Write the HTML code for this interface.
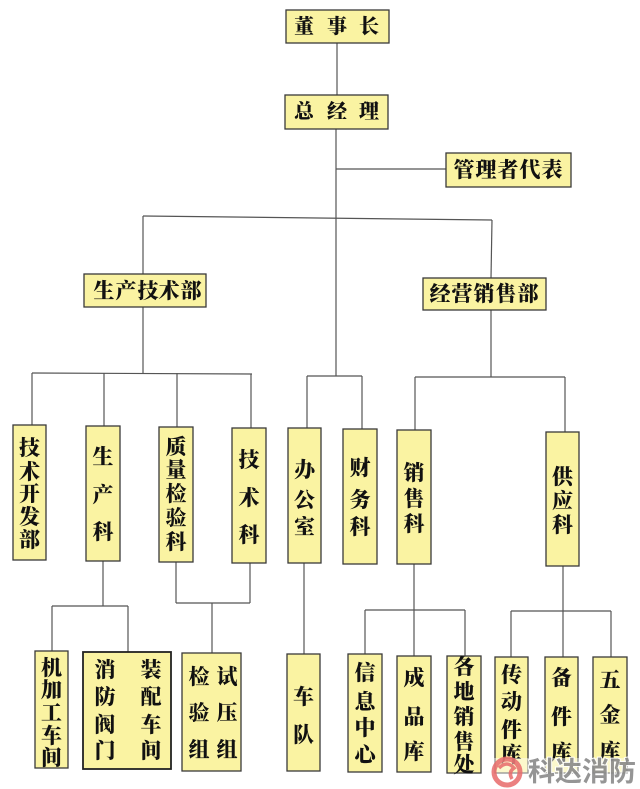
<!DOCTYPE html>
<html><head><meta charset="utf-8"><style>
html,body{margin:0;padding:0;background:#fff;}
svg{display:block;}
.b{fill:#faf3a2;stroke:#3a3a3a;stroke-width:1.3;}
.l{stroke:#555;stroke-width:1.2;fill:none;}
text.t{font-family:"Liberation Serif","Noto Serif CJK SC",serif;font-weight:900;font-size:21px;fill:#111;text-anchor:middle;dominant-baseline:central;}
</style></head><body>
<svg width="640" height="789" viewBox="0 0 640 789" xmlns="http://www.w3.org/2000/svg">
<g class="l">
<line x1="337" y1="43" x2="337" y2="95"/>
<line x1="336" y1="129" x2="336" y2="376"/>
<line x1="336" y1="169" x2="446" y2="169"/>
<line x1="143" y1="216" x2="492" y2="220"/>
<line x1="143" y1="216" x2="143" y2="274"/>
<line x1="492" y1="220" x2="491" y2="278"/>
<line x1="143" y1="307" x2="143" y2="373"/>
<line x1="32" y1="373" x2="252" y2="374"/>
<line x1="32" y1="373" x2="32" y2="425"/>
<line x1="104" y1="373" x2="104" y2="426"/>
<line x1="177" y1="373" x2="177" y2="427"/>
<line x1="251" y1="374" x2="251" y2="428"/>
<line x1="307" y1="376" x2="362" y2="376"/>
<line x1="307" y1="376" x2="307" y2="428"/>
<line x1="362" y1="376" x2="362" y2="429"/>
<line x1="491" y1="310" x2="491" y2="377"/>
<line x1="415" y1="377" x2="565" y2="377"/>
<line x1="415" y1="377" x2="415" y2="430"/>
<line x1="565" y1="377" x2="565" y2="432"/>
<line x1="103" y1="561" x2="103" y2="606"/>
<line x1="52" y1="606" x2="128" y2="606"/>
<line x1="52" y1="606" x2="52" y2="651"/>
<line x1="128" y1="606" x2="128" y2="652"/>
<line x1="176" y1="562" x2="176" y2="603"/>
<line x1="250" y1="563" x2="250" y2="603"/>
<line x1="176" y1="603" x2="250" y2="603"/>
<line x1="212" y1="603" x2="212" y2="653"/>
<line x1="304" y1="563" x2="304" y2="654"/>
<line x1="414" y1="564" x2="414" y2="656"/>
<line x1="365" y1="610" x2="465" y2="610"/>
<line x1="365" y1="610" x2="365" y2="654"/>
<line x1="465" y1="610" x2="465" y2="656"/>
<line x1="563" y1="566" x2="563" y2="657"/>
<line x1="511" y1="611" x2="611" y2="611"/>
<line x1="511" y1="611" x2="511" y2="657"/>
<line x1="611" y1="611" x2="611" y2="657"/>
</g>
<rect class="b" x="286" y="10" width="103" height="33"/>
<text class="t" x="304" y="27" style="font-size:20px">董</text><text class="t" x="337" y="27" style="font-size:20px">事</text><text class="t" x="369" y="27" style="font-size:20px">长</text>
<rect class="b" x="285" y="95" width="103" height="34"/>
<text class="t" x="304" y="112" style="font-size:20px">总</text><text class="t" x="337" y="112" style="font-size:20px">经</text><text class="t" x="369" y="112" style="font-size:20px">理</text>
<rect class="b" x="446" y="153" width="125" height="34"/>
<text class="t" x="464" y="170">管</text><text class="t" x="486" y="170">理</text><text class="t" x="508" y="170">者</text><text class="t" x="530" y="170">代</text><text class="t" x="552" y="170">表</text>
<rect class="b" x="84" y="274" width="122" height="33"/>
<text class="t" x="104" y="291">生</text><text class="t" x="126" y="291">产</text><text class="t" x="148" y="291">技</text><text class="t" x="169" y="291">术</text><text class="t" x="191" y="291">部</text>
<rect class="b" x="423" y="278" width="123" height="32"/>
<text class="t" x="440" y="294">经</text><text class="t" x="462" y="294">营</text><text class="t" x="484" y="294">销</text><text class="t" x="506" y="294">售</text><text class="t" x="528" y="294">部</text>
<rect class="b" x="13" y="425" width="33" height="135"/>
<text class="t" x="29.5" y="448">技</text><text class="t" x="29.5" y="472">术</text><text class="t" x="29.5" y="494">开</text><text class="t" x="29.5" y="517">发</text><text class="t" x="29.5" y="540">部</text>
<rect class="b" x="86" y="426" width="34" height="135"/>
<text class="t" x="103" y="457">生</text><text class="t" x="103" y="495">产</text><text class="t" x="103" y="532">科</text>
<rect class="b" x="159" y="427" width="34" height="135"/>
<text class="t" x="176" y="447">质</text><text class="t" x="176" y="470">量</text><text class="t" x="176" y="494">检</text><text class="t" x="176" y="518">验</text><text class="t" x="176" y="542">科</text>
<rect class="b" x="232" y="428" width="34" height="135"/>
<text class="t" x="249" y="460">技</text><text class="t" x="249" y="498">术</text><text class="t" x="249" y="535">科</text>
<rect class="b" x="288" y="428" width="33" height="135"/>
<text class="t" x="304.5" y="470">办</text><text class="t" x="304.5" y="500">公</text><text class="t" x="304.5" y="527">室</text>
<rect class="b" x="343" y="429" width="34" height="135"/>
<text class="t" x="360" y="468">财</text><text class="t" x="360" y="500">务</text><text class="t" x="360" y="527">科</text>
<rect class="b" x="397" y="430" width="34" height="134"/>
<text class="t" x="414" y="473">销</text><text class="t" x="414" y="499">售</text><text class="t" x="414" y="524">科</text>
<rect class="b" x="546" y="432" width="33" height="134"/>
<text class="t" x="562.5" y="477">供</text><text class="t" x="562.5" y="501">应</text><text class="t" x="562.5" y="525">科</text>
<rect class="b" x="35" y="651" width="33" height="117"/>
<text class="t" x="51.5" y="668">机</text><text class="t" x="51.5" y="690">加</text><text class="t" x="51.5" y="713">工</text><text class="t" x="51.5" y="736">车</text><text class="t" x="51.5" y="758">间</text>
<rect class="b" x="83" y="652" width="88" height="117" style="stroke:#222;stroke-width:1.8"/>
<text class="t" x="105" y="670">消</text><text class="t" x="105" y="697">防</text><text class="t" x="105" y="725">阀</text><text class="t" x="105" y="751">门</text>
<text class="t" x="151" y="670">装</text><text class="t" x="151" y="697">配</text><text class="t" x="151" y="725">车</text><text class="t" x="151" y="751">间</text>
<rect class="b" x="182" y="653" width="59" height="118"/>
<text class="t" x="199" y="677">检</text><text class="t" x="199" y="713">验</text><text class="t" x="199" y="750">组</text>
<text class="t" x="227" y="677">试</text><text class="t" x="227" y="713">压</text><text class="t" x="227" y="750">组</text>
<rect class="b" x="287" y="654" width="33" height="117"/>
<text class="t" x="303.5" y="697">车</text><text class="t" x="303.5" y="735">队</text>
<rect class="b" x="348" y="654" width="34" height="118"/>
<text class="t" x="365" y="673">信</text><text class="t" x="365" y="702">息</text><text class="t" x="365" y="728">中</text><text class="t" x="365" y="755">心</text>
<rect class="b" x="397" y="656" width="34" height="116"/>
<text class="t" x="414" y="678">成</text><text class="t" x="414" y="717">品</text><text class="t" x="414" y="752">库</text>
<rect class="b" x="447" y="656" width="34" height="117"/>
<text class="t" x="464" y="667">各</text><text class="t" x="464" y="692">地</text><text class="t" x="464" y="717">销</text><text class="t" x="464" y="742">售</text><text class="t" x="464" y="765">处</text>
<rect class="b" x="495" y="657" width="33" height="116"/>
<text class="t" x="511.5" y="675">传</text><text class="t" x="511.5" y="702">动</text><text class="t" x="511.5" y="730">件</text><text class="t" x="511.5" y="755">库</text>
<rect class="b" x="545" y="657" width="33" height="116"/>
<text class="t" x="561.5" y="678">备</text><text class="t" x="561.5" y="717">件</text><text class="t" x="561.5" y="753">库</text>
<rect class="b" x="593" y="657" width="34" height="116"/>
<text class="t" x="610" y="680">五</text><text class="t" x="610" y="715">金</text><text class="t" x="610" y="752">库</text>
<rect x="490" y="758" width="150" height="31" fill="#fff" opacity="0.45"/>
<circle cx="507" cy="772" r="13" fill="none" stroke="#e86a6a" stroke-width="5" opacity="0.85"/>
<path d="M499 768 Q507 760 514 768 Q508 772 512 779" fill="none" stroke="#e86a6a" stroke-width="3.5" opacity="0.85"/>
<text x="582" y="772" style="font-family:'Liberation Sans','Noto Sans CJK SC',sans-serif;font-weight:bold;font-size:27px;fill:#8a8a8a;text-anchor:middle;dominant-baseline:central;stroke:#fff;stroke-width:2;paint-order:stroke;opacity:0.9">科达消防</text>
</svg>
</body></html>
